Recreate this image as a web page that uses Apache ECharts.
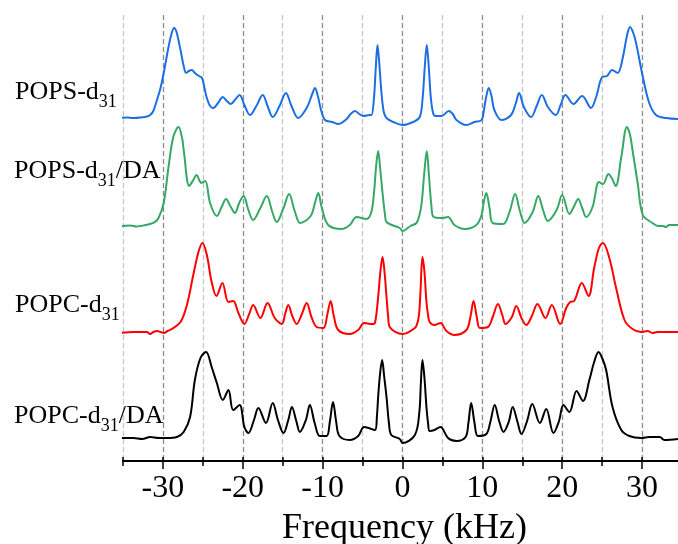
<!DOCTYPE html>
<html><head><meta charset="utf-8">
<script src="https://cdn.jsdelivr.net/npm/echarts@6/dist/echarts.min.js"></script>
<style>html,body{margin:0;padding:0;background:#fff}#c{width:678px;height:544px}</style>
</head><body><div id="c"></div>
<script>
// Frequency in kHz, intensity relative to each trace's baseline (arbitrary units)
const seriesNames = ['POPS-d31', 'POPS-d31/DA', 'POPC-d31', 'POPC-d31/DA'];
const popsD31 = [[-35.3,0],[-34.5,0.5],[-33.7,0],[-32.8,0.5],[-32,1.5],[-31.6,3],[-31.2,7],[-30.75,18],[-30.3,30],[-29.9,45],[-29.3,71],[-28.9,85],[-28.6,90],[-28.3,86],[-27.8,68],[-27.4,52],[-27.1,45],[-26.75,47],[-26.4,48],[-26.0,45],[-25.5,42],[-25.1,40],[-24.8,30],[-24.5,20],[-24.1,12],[-23.7,10],[-23.1,15],[-22.5,21],[-22.0,17],[-21.5,14],[-20.9,19],[-20.4,23],[-19.8,13],[-19.1,3],[-18.3,12],[-17.5,23],[-16.9,12],[-16.25,1],[-15.4,12],[-14.6,25],[-13.9,12],[-13.05,0],[-12.0,10],[-11.3,24],[-10.96,30],[-10.6,22],[-10.2,8],[-9.7,-2],[-8.8,-4],[-8.05,-6],[-7.0,-1],[-6.5,4],[-5.96,7],[-5.4,4],[-4.9,2],[-4.1,3],[-3.88,3],[-3.59,18],[-3.34,51],[-3.13,73],[-2.92,56],[-2.63,25],[-2.34,6],[-2.0,0],[-1.16,-4],[0,-7],[1.33,-4],[2.16,1],[2.5,18],[2.79,51],[3.04,73],[3.29,51],[3.54,21],[3.83,5],[4.16,2],[4.9,2],[5.8,7],[6.3,4],[6.75,-2],[8.0,-7],[9.0,-4],[9.9,-2],[10.2,8],[10.5,22],[10.8,30],[11.15,22],[11.5,8],[12.4,-2],[13.6,3],[14.2,15],[14.6,25],[15.2,11],[16.1,1],[16.8,12],[17.45,23],[18.2,11],[19.2,3],[19.8,13],[20.4,23],[21.4,14],[22.5,22],[23.6,10],[24.25,21],[25.0,41],[25.6,42],[26.25,48],[26.95,45],[27.6,61],[28.1,82],[28.5,91],[28.9,85],[29.25,75],[30.1,41],[30.9,15],[31.75,3],[33,0],[34.5,-1]];
const popsD31DA = [[-35.3,0],[-34.1,0.5],[-33.3,-0.5],[-32.8,0],[-32.2,1],[-31.6,2],[-31.0,4],[-30.55,8],[-29.9,23],[-29.3,59],[-28.7,89],[-28.05,99],[-27.6,88],[-27.4,76],[-26.7,40],[-26.2,46],[-25.8,51],[-25.4,45],[-25.2,43],[-24.7,45],[-24.1,23],[-23.25,10],[-22.6,20],[-22.1,27],[-21.5,19],[-21.0,13],[-20.4,24],[-19.9,30],[-19.3,16],[-18.7,6],[-17.8,18],[-17.0,30],[-16.3,14],[-15.75,4],[-14.9,18],[-14.2,32],[-13.5,15],[-12.8,3],[-11.5,10],[-10.9,25],[-10.55,33],[-10.1,18],[-9.3,1],[-7.6,-3],[-6.6,1],[-5.75,9],[-4.5,7],[-3.9,14],[-3.55,35],[-3.3,60],[-3.05,75],[-2.8,58],[-2.5,33],[-2.2,12],[-2.0,4],[-0.34,-2],[0,-5],[1.0,0],[1.75,3],[2.1,10],[2.4,23],[2.75,55],[3.04,75],[3.3,52],[3.6,22],[3.9,9],[4.9,8],[5.7,9],[6.5,1],[7.8,-3],[9.25,1],[9.9,11],[10.2,25],[10.5,33],[10.9,18],[11.3,3],[12.6,2],[13.4,14],[14.1,32],[14.7,15],[15.3,3],[16.3,14],[17.0,30],[17.6,16],[18.2,5],[19.3,16],[20.0,31],[20.9,12],[21.5,20],[22.0,27],[22.5,18],[23.0,9],[23.8,19],[24.6,44],[25.1,42],[25.8,52],[26.2,48],[26.7,40],[27.4,69],[28.1,99],[28.5,91],[28.8,76],[29.45,43],[30.1,11],[31.3,3],[32.0,0],[32.6,0],[33.0,-1],[33.4,1],[34.5,1]];
const popcD31 = [[-35.3,-1],[-33.7,0],[-32,0],[-31.6,-2],[-31.2,0],[-30.75,1],[-30.3,0],[-29.9,-1],[-29.4,1],[-28.9,3],[-27.8,10],[-27.0,27],[-26.2,57],[-25.55,80],[-25.05,89],[-24.5,77],[-23.9,50],[-23.3,36],[-22.55,49],[-21.8,30],[-21.2,31],[-20.55,19],[-19.8,8],[-19.2,18],[-18.7,27],[-17.8,14],[-16.9,29],[-16.0,14],[-15.1,8],[-14.7,18],[-14.3,27],[-13.8,16],[-13.25,8],[-12.6,18],[-12.0,29],[-11.4,15],[-10.75,5],[-9.9,4],[-9.4,18],[-9.0,31],[-8.6,16],[-8.05,2],[-6.6,-2],[-5.55,2],[-4.8,9],[-3.8,8],[-3.45,9],[-3.05,35],[-2.75,62],[-2.5,75],[-2.25,60],[-2.0,35],[-1.8,16],[-1.6,5],[0,-2],[1.55,4],[1.9,10],[2.1,20],[2.25,40],[2.5,75],[2.75,60],[3.0,30],[3.2,17],[3.4,10],[4.0,7],[4.75,9],[5.5,1],[6.5,-3],[8.0,2],[8.5,15],[8.9,31],[9.3,15],[9.7,4],[10.7,5],[11.3,15],[11.95,28],[12.5,17],[12.9,8],[13.7,15],[14.25,26],[14.9,14],[15.5,7],[16.2,16],[16.9,28],[17.9,14],[18.7,27],[19.75,8],[20.5,24],[21.0,30],[21.5,31],[22.45,49],[23.3,36],[24.0,64],[24.6,84],[25.1,89],[25.9,74],[26.75,44],[27.8,12],[28.8,3],[29.9,0],[30.7,1],[31.3,-1],[31.95,0],[34.5,0]];
const popcD31DA = [[-35.3,0],[-33.7,0],[-32.6,-1],[-31.6,1],[-30.5,0],[-29.5,0],[-28.25,1],[-27.4,6],[-26.6,21],[-26.0,58],[-25.3,80],[-24.6,86],[-23.9,71],[-23.25,55],[-22.5,38],[-21.8,48],[-21.2,28],[-20.4,33],[-19.8,11],[-19.3,5],[-18.6,18],[-18.05,30],[-17.1,15],[-16.25,35],[-15.6,18],[-14.9,5],[-14.3,18],[-13.85,31],[-13.3,17],[-12.85,6],[-12.1,18],[-11.6,33],[-11.0,15],[-10.35,2],[-9.5,2],[-9.1,16],[-8.7,36],[-8.3,16],[-7.9,2],[-6.6,-2],[-5.55,2],[-4.8,11],[-3.45,8],[-3.2,22],[-3.05,41],[-2.8,65],[-2.55,78],[-2.3,62],[-2.0,41],[-1.7,15],[-1.4,3],[-0.34,-1],[0,-5],[1.55,3],[2.1,25],[2.3,55],[2.5,78],[2.75,60],[3.0,31],[3.2,15],[3.4,7],[4.0,8],[4.75,11],[5.7,0],[6.75,-3],[7.9,1],[8.25,15],[8.6,35],[9.0,16],[9.45,2],[10.5,4],[11.0,16],[11.55,33],[12.1,17],[12.65,6],[13.3,16],[13.8,31],[14.4,16],[14.9,4],[15.6,17],[16.25,34],[17.2,15],[18.0,29],[18.9,5],[19.6,17],[20.15,33],[20.9,26],[21.8,47],[22.6,37],[23.4,58],[24.0,76],[24.55,86],[25.0,80],[25.5,68],[26.3,31],[27.4,8],[28.4,2],[29.9,0],[30.9,1],[32.2,1],[32.8,-2],[34.5,-1]];
const tickLabels = [-30, -20, -10, 0, 10, 20, 30];
const allTicks = [-35, -30, -25, -20, -15, -10, -5, 0, 5, 10, 15, 20, 25, 30];

const traces = [popsD31, popsD31DA, popcD31, popcD31DA];
const colors = ['#1c6fe2', '#36a866', '#ff0000', '#000000'];
const baselineOffsets = [343, 235, 129, 23];
const labelTops = [79, 158, 292, 403];
const labelLefts = [15, 14, 15, 14];

const serif = 'Liberation Serif';
const chart = echarts.init(document.getElementById('c'), null, {renderer: 'canvas'});

function richName(name) {
  const m = name.match(/^(.*?d)(31)(.*)$/);
  let s = '{m|' + m[1] + '}{s|' + m[2] + '}';
  if (m[3]) s += '{m|' + m[3] + '}';
  return s;
}

const commonX = {type: 'value', min: -35, max: 34.5, interval: 5, position: 'bottom', gridIndex: 0};
const option = {
  animation: false,
  backgroundColor: '#fff',
  grid: {left: 123, right: 0, top: 15, bottom: 83, containLabel: false, outerBoundsMode: 'none'},
  xAxis: [
    Object.assign({}, commonX, {
      axisLine: {show: true, lineStyle: {color: '#000', width: 2}},
      axisTick: {show: true, customValues: tickLabels, length: 8, inside: false, lineStyle: {color: '#000', width: 1.5}},
      axisLabel: {show: true, customValues: tickLabels, fontFamily: serif, fontSize: 32, color: '#000', margin: 12},
      splitLine: {show: false},
      name: 'Frequency (kHz)', nameLocation: 'middle', nameGap: 50,
      nameTextStyle: {fontFamily: serif, fontSize: 36, color: '#000', padding: [0, 0, 0, 8]}
    }),
    Object.assign({}, commonX, {
      axisLine: {show: false},
      axisTick: {show: true, customValues: allTicks, length: 4, inside: true, lineStyle: {color: '#000', width: 1.5}},
      axisLabel: {show: false}, splitLine: {show: false}
    }),
    Object.assign({}, commonX, {
      axisLine: {show: false},
      axisTick: {show: true, customValues: allTicks, length: 5, inside: false, lineStyle: {color: '#000', width: 1.5}},
      axisLabel: {show: false}, splitLine: {show: false}
    }),
    Object.assign({}, commonX, {
      axisLine: {show: false}, axisTick: {show: false}, axisLabel: {show: false},
      splitLine: {show: true, showMaxLine: false, lineStyle: {type: [5, 3], color: ['#c6c6c6', '#8a8a8a'], width: 1.3}}
    })
  ],
  yAxis: {type: 'value', min: 0, max: 446, show: false, splitLine: {show: false}},
  series: traces.map((d, i) => ({
    name: seriesNames[i], type: 'line', xAxisIndex: 0,
    data: d.map(p => [p[0], p[1] + baselineOffsets[i]]),
    smooth: 0.35, showSymbol: false, symbol: 'none',
    lineStyle: {color: colors[i], width: 2}, z: 3
  })),
  graphic: seriesNames.map((n, i) => ({
    type: 'text', x: labelLefts[i], y: labelTops[i], z: 10,
    style: {
      text: richName(n), fill: '#000',
      rich: {
        m: {fontFamily: serif, fontSize: 26, lineHeight: 26, verticalAlign: 'top', fill: '#000'},
        s: {fontFamily: serif, fontSize: 18, lineHeight: 18, verticalAlign: 'top', padding: [14, 0, 0, 0], fill: '#000'}
      }
    }
  }))
};
chart.setOption(option);
</script></body></html>
